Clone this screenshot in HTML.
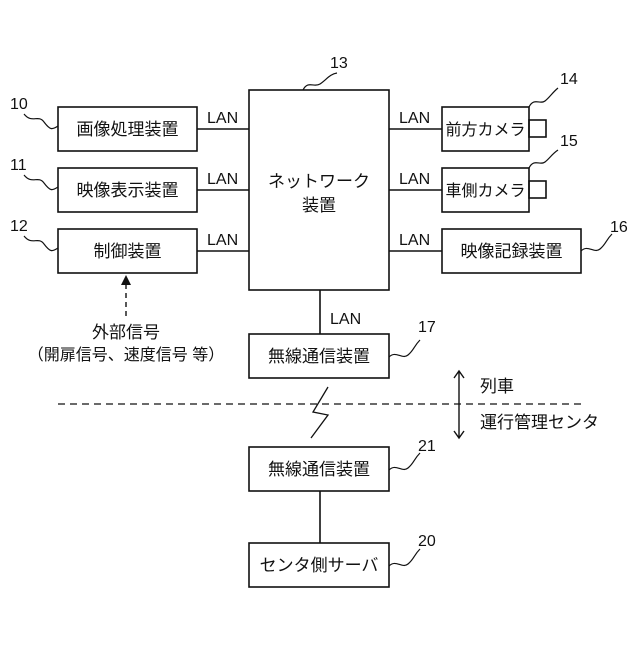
<!DOCTYPE html><html><head><meta charset="utf-8"><style>
body{margin:0;background:#fff}
svg text{font-family:"Liberation Sans","Noto Sans CJK JP",sans-serif;font-size:16px;fill:#111}
svg text.j{font-size:17px}
</style></head><body>
<svg width="640" height="640" viewBox="0 0 640 640" xmlns="http://www.w3.org/2000/svg">
<g fill="none" stroke="#111" stroke-width="1.6">
<rect x="58" y="107" width="139" height="44"/>
<rect x="58" y="168" width="139" height="44"/>
<rect x="58" y="229" width="139" height="44"/>
<rect x="249" y="90" width="140" height="200"/>
<rect x="442" y="107" width="87" height="44"/>
<rect x="529" y="120" width="17" height="17"/>
<rect x="442" y="168" width="87" height="44"/>
<rect x="529" y="181" width="17" height="17"/>
<rect x="442" y="229" width="139" height="44"/>
<rect x="249" y="334" width="140" height="44"/>
<rect x="249" y="447" width="140" height="44"/>
<rect x="249" y="543" width="140" height="44"/>
<path d="M197 129H249M197 190H249M197 251H249M389 129H442M389 190H442M389 251H442M320 290V334M320 491V543"/>
<path d="M58 404H582" stroke-dasharray="7,5" stroke-width="1.3"/>
<path d="M328 387L313 412L328 415L311 438" stroke-width="1.3"/>
<path d="M459 372V437M454 378L459 371L464 378M454 431L459 438L464 431" stroke-width="1.4"/>
<path d="M126 316V284" stroke-dasharray="5,4" stroke-width="1.4"/>
<g stroke-width="1.2">
<path d="M24 114C32 124 38 114 44 122S52 130 58 126"/>
<path d="M24 175C32 185 38 175 44 183S52 191 58 187"/>
<path d="M24 236C32 246 38 236 44 244S52 252 58 248"/>
<path d="M303 90C308 80 314 88 320 84S330 74 337 73"/>
<path d="M529 107C534 97 540 105 545 101S552 93 558 88"/>
<path d="M529 168C534 158 540 166 545 162S552 154 558 150"/>
<path d="M581 251C588 244 594 254 600 249S606 240 612 234"/>
<path d="M389 357C396 350 402 360 408 355S414 346 420 340"/>
<path d="M389 470C396 463 402 473 408 468S414 459 420 453"/>
<path d="M389 566C396 559 402 569 408 564S414 555 420 549"/>
</g></g>
<path d="M126 275L121 285H131z" fill="#111"/>
<g text-anchor="middle">
<text class="j" x="127.5" y="135">画像処理装置</text>
<text class="j" x="127.5" y="196">映像表示装置</text>
<text class="j" x="127.5" y="257">制御装置</text>
<text class="j" x="319" y="187">ネットワーク</text>
<text class="j" x="319" y="211">装置</text>
<text x="485.5" y="135">前方カメラ</text>
<text x="485.5" y="196">車側カメラ</text>
<text class="j" x="511.5" y="257">映像記録装置</text>
<text class="j" x="319" y="362">無線通信装置</text>
<text class="j" x="319" y="475">無線通信装置</text>
<text class="j" x="319" y="571">センタ側サーバ</text>
<text class="j" x="126" y="338">外部信号</text>
<text x="126" y="360">（開扉信号、速度信号 等）</text>
</g>
<text x="207" y="123">LAN</text><text x="207" y="184">LAN</text><text x="207" y="245">LAN</text>
<text x="399" y="123">LAN</text><text x="399" y="184">LAN</text><text x="399" y="245">LAN</text>
<text x="330" y="324">LAN</text>
<text class="j" x="480" y="392">列車</text>
<text class="j" x="480" y="428">運行管理センタ</text>
<text x="10" y="109">10</text><text x="10" y="170">11</text><text x="10" y="231">12</text>
<text x="330" y="68">13</text><text x="560" y="84">14</text><text x="560" y="146">15</text>
<text x="610" y="232">16</text><text x="418" y="332">17</text><text x="418" y="451">21</text><text x="418" y="546">20</text>
</svg></body></html>
